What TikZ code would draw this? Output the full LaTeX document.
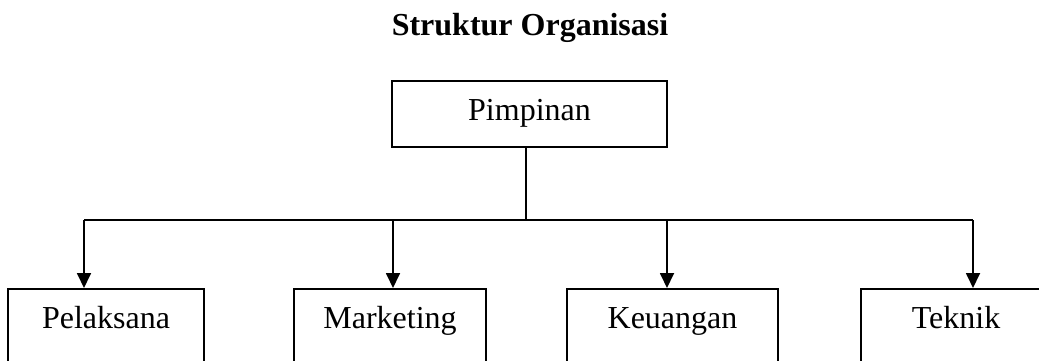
\documentclass[tikz,border=0pt]{standalone}
\usepackage{fontspec}
\setmainfont{Liberation Serif}
\usetikzlibrary{arrows.meta}
\begin{document}
\begin{tikzpicture}[x=1pt,y=-1pt,
  line width=1.8pt,
  boxtop/.style={draw, rectangle, inner xsep=0pt, inner ysep=0pt, anchor=north,
    text height=40pt, text depth=26pt, font=\fontsize{32}{38}\selectfont},
  boxlow/.style={draw, rectangle, inner xsep=0pt, inner ysep=0pt, anchor=north,
    text height=40pt, text depth=90pt, font=\fontsize{32}{38}\selectfont},
  arr/.style={-{Triangle[width=14pt,length=15pt]}},
]
\useasboundingbox (0,0) rectangle (1039,361);
\clip (0,0) rectangle (1039,361);
\node[font=\fontsize{32}{38}\selectfont\bfseries, anchor=base] (title) at (530,36) {Struktur Organisasi};
\node[boxtop, minimum width=275pt] (pim) at (529.5,80) {Pimpinan};
\node[boxlow, minimum width=196pt] (pel) at (106,288) {Pelaksana};
\node[boxlow, minimum width=192pt] (mar) at (390,288) {Marketing};
\node[boxlow, minimum width=211pt] (keu) at (672.5,288) {Keuangan};
\node[boxlow, minimum width=190pt] (tek) at (956,288) {Teknik};
\coordinate (j) at (526,220);
\coordinate (b1) at (84,220);
\coordinate (b2) at (393,220);
\coordinate (b3) at (667,220);
\coordinate (b4) at (973,220);
\draw (pim.south -| j) -- (j);
\draw (b1) -- (b4);
\draw[arr] (b1) -- (b1 |- pel.north);
\draw[arr] (b2) -- (b2 |- mar.north);
\draw[arr] (b3) -- (b3 |- keu.north);
\draw[arr] (b4) -- (b4 |- tek.north);
\end{tikzpicture}
\end{document}
